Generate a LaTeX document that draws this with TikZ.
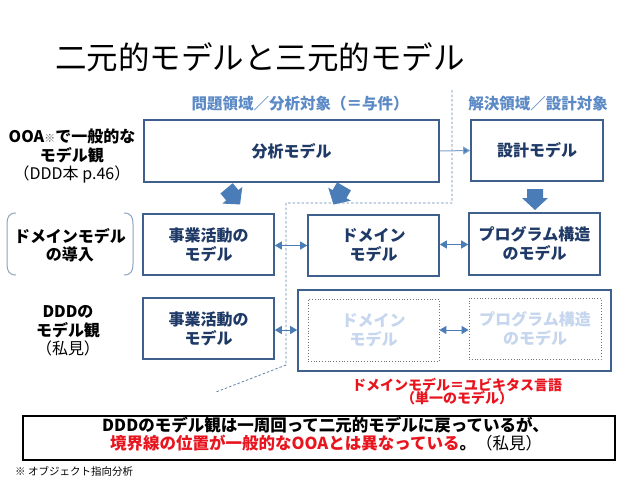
\documentclass[tikz,border=0pt]{standalone}
\usepackage{fontspec}
\setmainfont{Noto Sans CJK JP}
\usetikzlibrary{arrows.meta}
\definecolor{boxdraw}{HTML}{3F5F8C}
\definecolor{boxtext}{HTML}{1F3A66}
\definecolor{arrowblue}{HTML}{4A7CB8}
\definecolor{headtext}{HTML}{5C8AC6}
\definecolor{fadetext}{HTML}{C5D6EE}
\definecolor{dashc}{HTML}{6383AC}
\definecolor{redtext}{HTML}{E8141E}
\definecolor{bracketc}{HTML}{8FA4C2}
\begin{document}
\begin{tikzpicture}[x=1pt,y=-1pt,
  modelbox/.style={draw=boxdraw, line width=1.6pt, fill=white, text=boxtext,
    font=\bfseries\fontsize{16}{19}\selectfont, align=center, inner sep=0pt},
  fadebox/.style={draw=black!55, dotted, line width=0.8pt, text=fadetext,
    font=\bfseries\fontsize{16}{19}\selectfont, align=center, inner sep=0pt},
  sidelabel/.style={font=\bfseries\fontsize{16}{18.5}\selectfont, align=center, inner sep=0pt, text=black},
  headlabel/.style={font=\bfseries\fontsize{15.5}{18}\selectfont, text=headtext, inner sep=0pt},
  dblarrow/.style={arrowblue, line width=1pt, {Triangle[length=7pt,width=8pt]}-{Triangle[length=7pt,width=8pt]}},
  boundary/.style={dashc, line width=0.8pt, dash pattern=on 2.5pt off 2pt},
  fatarrow/.pic={\fill[arrowblue] (-8,-10) -- (8,-10) -- (8,-1) -- (13,-1) -- (0,11) -- (-13,-1) -- (-8,-1) -- cycle;}
]
\useasboundingbox (0,0) rectangle (638,479);
\fill[white] (0,0) rectangle (638,479);

% title
\node[anchor=west, inner sep=0pt, font=\fontsize{31.5}{36}\selectfont] (title) at (55,57) {二元的モデルと三元的モデル};

% header labels
\node[headlabel] (hprob) at (300,104) {問題領域／分析対象（＝与件）};
\node[headlabel] (hsol) at (538,104) {解決領域／設計対象};

% dashed boundary
\coordinate (d1) at (452,90);
\coordinate (d2) at (452,203);
\coordinate (d3) at (286,203);
\coordinate (d4) at (286,365);
\coordinate (d5) at (216,392);
\draw[boundary] (d1) -- (d2) -- (d3) -- (d4) -- (d5);

% row 1
\node[modelbox, minimum width=295pt, minimum height=62pt] (bunseki) at (291.5,151) {分析モデル};
\node[modelbox, minimum width=132pt, minimum height=61pt] (sekkei) at (537,150.5) {設計モデル};

% row 2
\node[modelbox, minimum width=131pt, minimum height=61pt] (jigyo1) at (208.5,244.5) {事業活動の\\モデル};
\node[modelbox, minimum width=131pt, minimum height=61pt] (domain1) at (373.5,245.5) {ドメイン\\モデル};
\node[modelbox, minimum width=131pt, minimum height=62pt] (prog1) at (534.5,244) {プログラム構造\\のモデル};

% row 3
\node[modelbox, minimum width=131pt, minimum height=61pt] (jigyo2) at (208.5,328.5) {事業活動の\\モデル};
\node[draw=boxdraw, line width=1.6pt, minimum width=313pt, minimum height=81pt, inner sep=0pt] (cont) at (454.5,330.5) {};
\node[fadebox, minimum width=131pt, minimum height=62pt] (domain2) at (373.5,330) {ドメイン\\モデル};
\node[fadebox, minimum width=132pt, minimum height=61pt] (prog2) at (535,328.5) {プログラム構造\\のモデル};

% fat arrows
\pic[rotate=40] at (233,196) {fatarrow};
\pic[rotate=-30] at (339,195) {fatarrow};
\pic at (535,199) {fatarrow};

% connectors
\draw[arrowblue!70, line width=1pt, -{Triangle[length=7pt,width=8pt,fill=arrowblue]}] (bunseki.east) -- (sekkei.west);
\draw[dblarrow] (jigyo1.east |- 0,245.5) -- (domain1.west |- 0,245.5);
\draw[dblarrow] (domain1.east |- 0,244.5) -- (prog1.west |- 0,244.5);
\draw[dblarrow] (jigyo2.east |- 0,330) -- (cont.west |- 0,330);
\draw[dblarrow] (domain2.east |- 0,330) -- (prog2.west |- 0,330);

% left labels
\node[sidelabel] (ooa) at (72,156) {OOA{\mdseries\fontsize{11}{12}\selectfont\color{black!60}※}で一般的な\\モデル観\\{\mdseries （DDD本 p.46）}};
\node[sidelabel] (intro) at (70,245) {ドメインモデル\\の導入};
\draw[bracketc, line width=1pt] (16,213) .. controls (9,213) and (7,217) .. (7,224) -- (7,264) .. controls (7,271) and (9,275) .. (16,275);
\draw[bracketc, line width=1pt] (124,213) .. controls (131,213) and (133,217) .. (133,224) -- (133,264) .. controls (133,271) and (131,275) .. (124,275);
\node[sidelabel] (ddd) at (68,331) {DDDの\\モデル観\\{\mdseries （私見）}};

% red label
\node[font=\bfseries\fontsize{14}{14}\selectfont, text=redtext, align=center, inner sep=0pt] (ubiq) at (457,391.5) {ドメインモデル＝ユビキタス言語\\[-1pt]（単一のモデル）};

% bottom box
\node[draw=black, line width=1.1pt, minimum width=592pt, minimum height=44pt, inner sep=0pt] (bottom) at (319,438) {};
\node[font=\bfseries\fontsize{16.5}{18.5}\selectfont, align=left, inner sep=0pt, anchor=north west] (concl) at (102,416.5) {DDDのモデル観は一周回って二元的モデルに戻っているが、\\
\hspace*{8pt}{\color{redtext}境界線の位置が一般的なOOAとは異なっている}。{\mdseries （私見）}};

% footnote
\node[anchor=west, inner sep=0pt, font=\fontsize{10.5}{12}\selectfont] (foot) at (15,471) {※ オブジェクト指向分析};
\end{tikzpicture}
\end{document}
